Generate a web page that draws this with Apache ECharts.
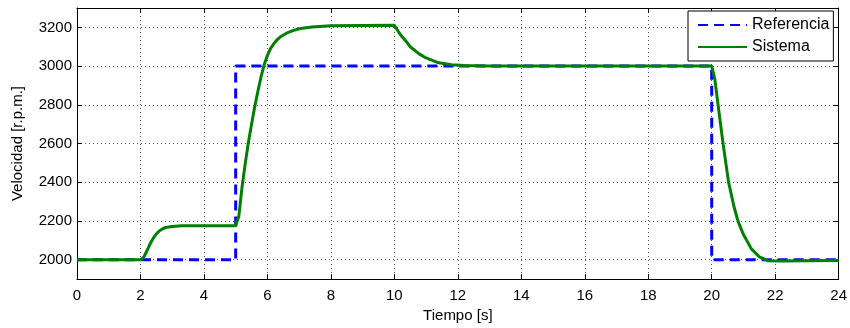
<!DOCTYPE html>
<html>
<head>
<meta charset="utf-8">
<script src="https://cdn.jsdelivr.net/npm/echarts@6/dist/echarts.min.js"></script>
<style>
html,body{margin:0;padding:0;background:#fff;}
#c{width:850px;height:328px;}
</style>
</head>
<body>
<div id="c"></div>
<script>
// Data
const refTime   = [0, 5, 5, 20, 20, 24];
const refValues = [2000, 2000, 3000, 3000, 2000, 2000];

const sysTime = [0, 2.0, 2.1, 2.2, 2.3, 2.4, 2.5, 2.6, 2.7, 2.8, 3.0, 3.3, 4.0, 5.0,
  5.05, 5.1, 5.2, 5.3, 5.4, 5.5, 5.6, 5.7, 5.8, 5.9, 6.0, 6.1, 6.2, 6.3, 6.4, 6.6, 6.8, 7.0, 7.4, 8.0, 9.0, 10.0,
  10.1, 10.2, 10.36, 10.5, 10.78, 11.0, 11.4, 11.8, 12.2, 13.0, 20.0,
  20.05, 20.1, 20.2, 20.36, 20.53, 20.7, 20.83, 21.0, 21.25, 21.5, 21.77, 22.2, 23.0, 24.0];
const sysValues = [2000, 2000, 2012, 2045, 2081, 2110, 2133, 2150, 2160, 2167, 2172, 2175, 2176, 2176,
  2185, 2225, 2375, 2495, 2605, 2700, 2790, 2870, 2945, 3008, 3055, 3092, 3115, 3135, 3150, 3170, 3183, 3193, 3202, 3208, 3210, 3211,
  3185, 3160, 3130, 3100, 3063, 3042, 3017, 3007, 3003, 3001, 3000,
  2990, 2930, 2800, 2597, 2402, 2275, 2198, 2130, 2056, 2015, 1995, 1993, 1995, 1996];

const xTicks = {min: 0, max: 24, interval: 2};
const yRange = {min: 1900, max: 3300, step: 200};

const seriesNames = ['Referencia', 'Sistema'];
const FONT = 'Liberation Sans, Arial, sans-serif';

const refData = refTime.map((t, i) => [t, refValues[i]]);
const sysData = sysTime.map((t, i) => [t, sysValues[i]]);

const gridLine = {show: true, lineStyle: {color: '#555', type: [1, 3], width: 1}};
const tickIn = {show: true, inside: true, length: 5, lineStyle: {color: '#000', width: 1}};
const axLine = {show: true, onZero: false, lineStyle: {color: '#000', width: 1}};

const chart = echarts.init(document.getElementById('c'), null, {renderer: 'canvas'});
chart.setOption({
  backgroundColor: '#fff',
  animation: false,
  grid: {left: 77, right: 9, top: 8, bottom: 45, containLabel: false},
  legend: {
    orient: 'vertical',
    left: 688, top: 11,
    padding: [6, 4, 6, 9],
    itemGap: 6,
    itemWidth: 49, itemHeight: 16,
    backgroundColor: '#fff',
    borderColor: '#000', borderWidth: 1,
    itemStyle: {opacity: 0},
    textStyle: {fontFamily: FONT, fontSize: 16, color: '#000'},
    data: seriesNames
  },
  xAxis: [{
    type: 'value', position: 'bottom',
    min: xTicks.min, max: xTicks.max, interval: xTicks.interval,
    name: 'Tiempo [s]', nameLocation: 'middle', nameGap: 25,
    nameTextStyle: {fontFamily: FONT, fontSize: 15, color: '#000'},
    axisLine: axLine, axisTick: tickIn,
    axisLabel: {fontFamily: FONT, fontSize: 15, color: '#000', margin: 9},
    splitLine: gridLine
  }, {
    type: 'value', position: 'top',
    min: xTicks.min, max: xTicks.max, interval: xTicks.interval,
    axisLine: axLine, axisTick: tickIn,
    axisLabel: {show: false}, splitLine: {show: false}
  }],
  yAxis: [{
    type: 'value', position: 'left',
    min: yRange.min, max: yRange.max, splitNumber: 7,
    minInterval: yRange.step, maxInterval: yRange.step,
    name: 'Velocidad [r.p.m.]', nameLocation: 'middle', nameGap: 52,
    nameTextStyle: {fontFamily: FONT, fontSize: 15, color: '#000'},
    axisLine: axLine, axisTick: tickIn,
    axisLabel: {fontFamily: FONT, fontSize: 15, color: '#000', margin: 5,
      showMinLabel: false, showMaxLabel: false, formatter: v => String(v)},
    splitLine: gridLine
  }, {
    type: 'value', position: 'right',
    min: yRange.min, max: yRange.max, splitNumber: 7,
    minInterval: yRange.step, maxInterval: yRange.step,
    axisLine: axLine, axisTick: tickIn,
    axisLabel: {show: false}, splitLine: {show: false}
  }],
  series: [{
    name: seriesNames[0], type: 'line', data: refData,
    showSymbol: false, symbol: 'none',
    lineStyle: {color: '#0000ff', width: 3, type: [10, 6]},
    itemStyle: {color: '#0000ff'},
    z: 2
  }, {
    name: seriesNames[1], type: 'line', data: sysData,
    showSymbol: false, symbol: 'none',
    lineStyle: {color: '#008000', width: 3},
    itemStyle: {color: '#008000'},
    z: 3
  }]
});
</script>
</body>
</html>
